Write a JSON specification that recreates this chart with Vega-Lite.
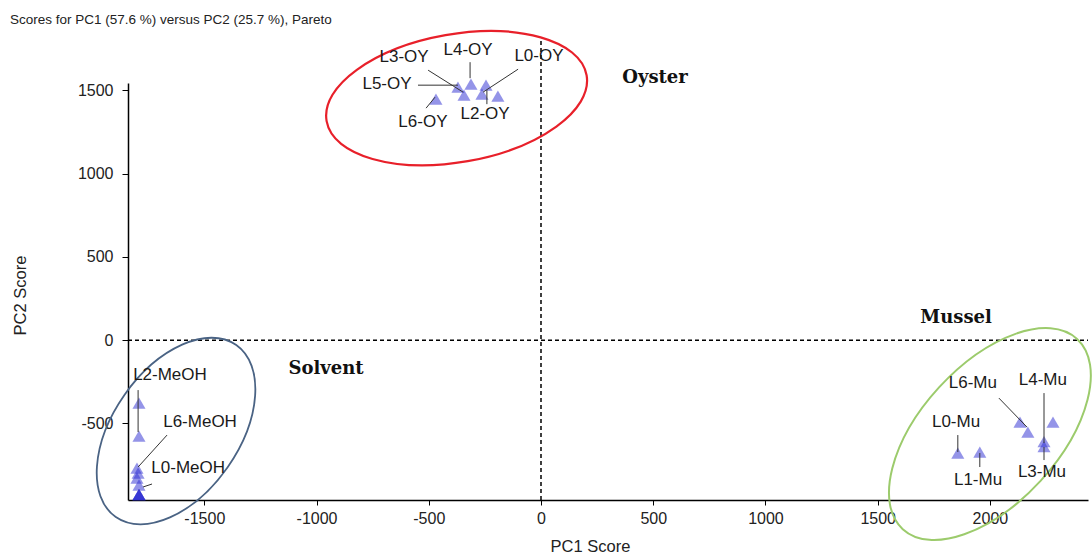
{
  "$schema": "https://vega.github.io/schema/vega-lite/v6.json",
  "autosize": {"type": "none"},
  "width": 960,
  "height": 417,
  "padding": {"left": 128, "top": 83, "right": 4, "bottom": 58},
  "background": "white",
  "title": {
    "text": "Scores for PC1 (57.6 %) versus PC2 (25.7 %), Pareto",
    "anchor": "start",
    "frame": "group",
    "dx": -118,
    "dy": 4,
    "offset": 4,
    "font": "Liberation Sans",
    "fontSize": 13.5,
    "fontWeight": "normal",
    "color": "#222222"
  },
  "config": {
    "view": {"stroke": null},
    "axis": {"grid": false}
  },
  "datasets": {
    "points": [
      {"x": -263, "y": 1477, "sample": "L0-OY"},
      {"x": -192, "y": 1465, "sample": "L1-OY"},
      {"x": -245, "y": 1531, "sample": "L2-OY"},
      {"x": -343, "y": 1471, "sample": "L3-OY"},
      {"x": -312, "y": 1537, "sample": "L4-OY"},
      {"x": -370, "y": 1519, "sample": "L5-OY"},
      {"x": -468, "y": 1447, "sample": "L6-OY"},
      {"x": 1857, "y": -678, "sample": "L0-Mu"},
      {"x": 1955, "y": -672, "sample": "L1-Mu"},
      {"x": 2134, "y": -492, "sample": "L2-Mu"},
      {"x": 2241, "y": -640, "sample": "L3-Mu"},
      {"x": 2241, "y": -610, "sample": "L4-Mu"},
      {"x": 2281, "y": -492, "sample": "L5-Mu"},
      {"x": 2169, "y": -552, "sample": "L6-Mu"},
      {"x": -1791, "y": -378, "sample": "L1-MeOH"},
      {"x": -1791, "y": -576, "sample": "L2-MeOH"},
      {"x": -1800, "y": -768, "sample": "L6-MeOH"},
      {"x": -1795, "y": -798, "sample": "L3-MeOH"},
      {"x": -1800, "y": -828, "sample": "L4-MeOH"},
      {"x": -1791, "y": -870, "sample": "L0-MeOH"},
      {"x": -1791, "y": -928, "sample": "L5-MeOH"},
      {"x": -1791, "y": -928, "sample": "Blank 1"},
      {"x": -1791, "y": -928, "sample": "Blank 2"},
      {"x": -1791, "y": -928, "sample": "Blank 3"}
    ],
    "labels": [
      {"x": -610, "y": 1699, "text": "L3-OY"},
      {"x": -325, "y": 1741, "text": "L4-OY"},
      {"x": -9, "y": 1705, "text": "L0-OY"},
      {"x": -686, "y": 1537, "text": "L5-OY"},
      {"x": -526, "y": 1309, "text": "L6-OY"},
      {"x": -249, "y": 1357, "text": "L2-OY"},
      {"x": 1924, "y": -258, "text": "L6-Mu"},
      {"x": 2236, "y": -240, "text": "L4-Mu"},
      {"x": 1849, "y": -492, "text": "L0-Mu"},
      {"x": 1947, "y": -840, "text": "L1-Mu"},
      {"x": 2232, "y": -792, "text": "L3-Mu"},
      {"x": -1653, "y": -210, "text": "L2-MeOH"},
      {"x": -1519, "y": -492, "text": "L6-MeOH"},
      {"x": -1572, "y": -768, "text": "L0-MeOH"}
    ],
    "leaders": [
      {"x": -503, "y": 1621, "x2": -347, "y2": 1489},
      {"x": -316, "y": 1669, "x2": -316, "y2": 1573},
      {"x": -102, "y": 1627, "x2": -258, "y2": 1489},
      {"x": -548, "y": 1531, "x2": -370, "y2": 1531},
      {"x": -512, "y": 1393, "x2": -472, "y2": 1459},
      {"x": -241, "y": 1417, "x2": -241, "y2": 1501},
      {"x": 2040, "y": -348, "x2": 2165, "y2": -522},
      {"x": 2241, "y": -318, "x2": 2241, "y2": -618},
      {"x": 1857, "y": -570, "x2": 1857, "y2": -672},
      {"x": 1955, "y": -762, "x2": 1955, "y2": -678},
      {"x": 2241, "y": -720, "x2": 2241, "y2": -642},
      {"x": -1795, "y": -300, "x2": -1795, "y2": -552},
      {"x": -1666, "y": -570, "x2": -1795, "y2": -762},
      {"x": -1733, "y": -864, "x2": -1773, "y2": -882}
    ],
    "refs": [
      {"x": -1840, "y": 0, "x2": 2437, "y2": 0},
      {"x": 0, "y": -960, "x2": 0, "y2": 1800}
    ],
    "groups": [
      {"x": 508, "y": 1573, "text": "Oyster"},
      {"x": 1849, "y": 132, "text": "Mussel"},
      {"x": -958, "y": -174, "text": "Solvent"}
    ],
    "ellipses": [
      {"x": -376, "y": 1453, "group": "Oyster"},
      {"x": -1626, "y": -546, "group": "Solvent"},
      {"x": 2000, "y": -564, "group": "Mussel"}
    ]
  },
  "encoding": {
    "x": {
      "field": "x",
      "type": "quantitative",
      "scale": {"domain": [-1840, 2437], "nice": false, "zero": false},
      "axis": {
        "values": [-1500, -1000, -500, 0, 500, 1000, 1500, 2000],
        "format": "d",
        "labelExpr": "replace(datum.label, '\u2212', '-')",
        "labelFont": "Liberation Sans",
        "labelFontSize": 16,
        "labelColor": "#222222",
        "labelPadding": 5,
        "tickColor": "#000000",
        "tickSize": 5,
        "domainColor": "#000000",
        "domainWidth": 1.5,
        "title": "PC1 Score",
        "titleFont": "Liberation Sans",
        "titleFontSize": 16.5,
        "titleFontWeight": "normal",
        "titleColor": "#222222",
        "titleX": 462,
        "titleY": 38
      }
    },
    "y": {
      "field": "y",
      "type": "quantitative",
      "scale": {"domain": [-960, 1544], "nice": false, "zero": false},
      "axis": {
        "values": [-500, 0, 500, 1000, 1500],
        "format": "d",
        "labelExpr": "replace(datum.label, '\u2212', '-')",
        "labelFont": "Liberation Sans",
        "labelFontSize": 16,
        "labelColor": "#222222",
        "labelPadding": 9,
        "tickColor": "#000000",
        "tickSize": 6,
        "domainColor": "#000000",
        "domainWidth": 1.5,
        "title": "PC2 Score",
        "titleFont": "Liberation Sans",
        "titleFontSize": 16.5,
        "titleFontWeight": "normal",
        "titleColor": "#222222",
        "titleX": -100,
        "titleY": 212
      }
    }
  },
  "layer": [
    {
      "data": {"name": "refs"},
      "mark": {"type": "rule", "color": "#000000", "strokeWidth": 1.5, "strokeDash": [4, 3]},
      "encoding": {"x2": {"field": "x2"}, "y2": {"field": "y2"}}
    },
    {
      "data": {"name": "ellipses"},
      "transform": [{"filter": "datum.group === 'Oyster'"}],
      "mark": {"type": "point", "shape": "M -1 0 A 1 0.485 0 0 1 1 0 A 1 0.485 0 0 1 -1 0 Z", "size": 69696, "angle": -10, "filled": false, "color": "#e8202a", "strokeWidth": 2.2, "opacity": 1}
    },
    {
      "data": {"name": "ellipses"},
      "transform": [{"filter": "datum.group === 'Solvent'"}],
      "mark": {"type": "point", "shape": "M -1 0 A 1 0.6 0 0 1 1 0 A 1 0.6 0 0 1 -1 0 Z", "size": 44100, "angle": -55, "filled": false, "color": "#4a6384", "strokeWidth": 1.8, "opacity": 1}
    },
    {
      "data": {"name": "ellipses"},
      "transform": [{"filter": "datum.group === 'Mussel'"}],
      "mark": {"type": "point", "shape": "M -1 0 A 1 0.535 0 0 1 1 0 A 1 0.535 0 0 1 -1 0 Z", "size": 66564, "angle": -47.5, "filled": false, "color": "#9ccb6c", "strokeWidth": 2, "opacity": 1}
    },
    {
      "data": {"name": "points"},
      "mark": {"type": "point", "shape": "triangle-up", "filled": true, "size": 170, "color": "#2a2ad2", "opacity": 0.5, "strokeWidth": 0}
    },
    {
      "data": {"name": "leaders"},
      "mark": {"type": "rule", "color": "#333333", "strokeWidth": 1},
      "encoding": {"x2": {"field": "x2"}, "y2": {"field": "y2"}}
    },
    {
      "data": {"name": "labels"},
      "mark": {"type": "text", "font": "Liberation Sans", "fontSize": 17, "color": "#1a1a1a", "align": "center", "baseline": "middle"},
      "encoding": {"text": {"field": "text"}}
    },
    {
      "data": {"name": "groups"},
      "mark": {"type": "text", "font": "DejaVu Serif", "fontSize": 18, "fontWeight": "bold", "color": "#111111", "align": "center", "baseline": "middle"},
      "encoding": {"text": {"field": "text"}}
    }
  ]
}
